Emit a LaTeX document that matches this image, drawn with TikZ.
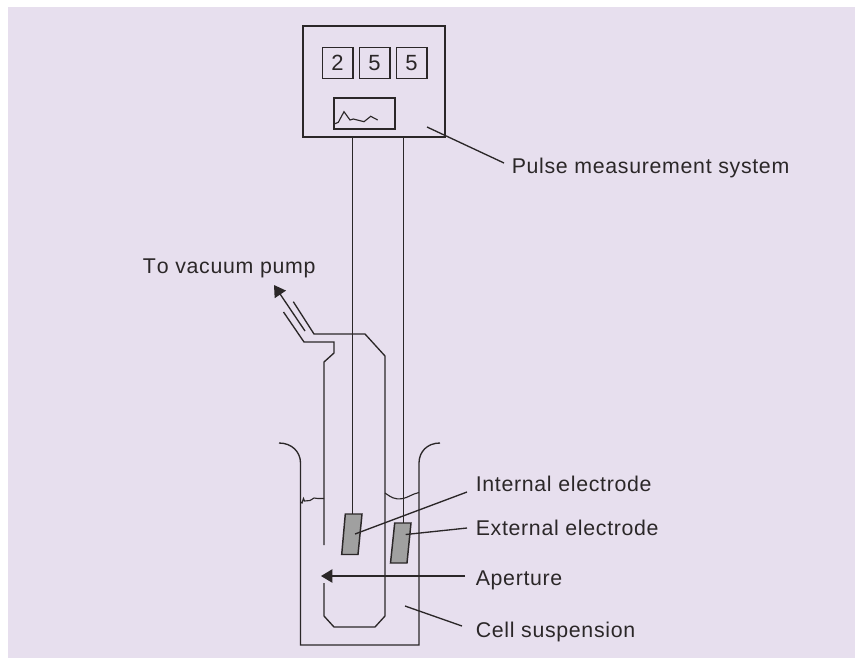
\documentclass[tikz,border=0pt]{standalone}
\usepackage{fontspec}
\setmainfont{Liberation Sans}
\newfontfamily\lblfont[LetterSpace=3.2]{Liberation Sans}
\definecolor{bgc}{HTML}{E7DFEE}
\definecolor{ink}{HTML}{2B2728}
\definecolor{elec}{HTML}{A0A0A0}
\usetikzlibrary{arrows.meta}
\tikzset{
  x=0.75pt,y=-0.75pt,
  ln/.style={draw=ink,line width=1pt,line join=miter},
  thin ln/.style={draw=ink,line width=0.85pt},
  lbl/.style={anchor=base west,inner sep=0pt,text=ink,font=\lblfont\fontsize{16pt}{20pt}\selectfont},
  digit/.style={draw=ink,line width=1pt,minimum width=23pt,minimum height=23pt,inner sep=0pt,text=ink,font=\fontsize{16.5pt}{18pt}\selectfont},
  electrode/.style={draw=ink,line width=1.1pt,fill=elec},
  tip/.style={-{Triangle[length=8.5pt,width=10pt]}}
}
\begin{document}
\begin{tikzpicture}
\useasboundingbox (0,0) rectangle (855,658);
\fill[bgc] (8,7) rectangle (855,658);
% measurement box
\node[draw=ink,line width=1.15pt,minimum width=106.5pt,minimum height=83.25pt,inner sep=0pt] (box) at (374,81.5) {};
\node[digit] (d1) at (337.5,63) {2};
\node[digit] (d2) at (374.5,63) {5};
\node[digit] (d3) at (411.5,63) {5};
\node[draw=ink,line width=1pt,minimum width=45.75pt,minimum height=23.25pt,inner sep=0pt] (screen) at (364.5,113.5) {};
\draw[thin ln] (335,123.7) -- (338.3,122.3) -- (344,111.7) -- (350,120) -- (353.3,119) -- (364,121.7) -- (370.7,116.3) -- (377.7,120);
% electrodes
\node[coordinate] (w1) at (352.4,137) {};
\node[coordinate] (w2) at (403.4,137) {};
\coordinate (e1) at (352.4,514);
\coordinate (e2) at (403.4,523);
\draw[ln] (w1) -- (e1);
\draw[ln] (w2) -- (e2);
\draw[electrode] (345.3,514) -- (362,514) -- (358,554.5) -- (341.7,554.5) -- cycle;
\draw[electrode] (394.7,523) -- (411,523) -- (407,563) -- (390.5,563) -- cycle;
% pipette
\draw[ln] (293.3,301.7) -- (314,334) -- (365,334) -- (385,356) -- (385,616) -- (375,627) -- (334,627) -- (324,616) -- (324,583);
\draw[ln] (324,545) -- (324,362) -- (334,353) -- (334,342) -- (304,342) -- (283.5,312);
\coordinate (pa) at (305,331);
\coordinate (pb) at (274,285);
\draw[ln,tip] (pa) -- (pb);
% beaker
\draw[ln] (279,443) .. controls (292,443) and (300.5,452) .. (300.5,463) -- (300.5,645) -- (419,645) -- (419,463) .. controls (419,452) and (427,443) .. (440,443);
% liquid
\draw[thin ln] (300.5,502) -- (302,503) -- (303.5,498.5) -- (304.5,501) -- (310,500.5) -- (314,498) -- (318,498.5) -- (324,498.5);
\draw[thin ln] (385,493) .. controls (391,497) and (394,500) .. (403,498.5) .. controls (408,497.5) and (412,494) .. (419,492.5);
% leaders and labels
\node[lbl] (lp) at (511.5,173.3) {Pulse measurement system};
\node[lbl] (lv) at (142.5,273) {T\kern0.8pt o vacuum pump};
\node[lbl] (li) at (475.5,491) {Internal electrode};
\node[lbl] (le) at (475.5,535.7) {External electrode};
\node[lbl] (la) at (475.5,585) {Aperture};
\node[lbl] (lc) at (475.5,637.7) {Cell suspension};
\coordinate (tp) at (427,127);
\coordinate (ti) at (355,534);
\coordinate (te) at (405.7,534.5);
\coordinate (tc) at (405,606);
\coordinate (ta) at (321,576);
\coordinate (sp) at (504,163);
\coordinate (si) at (467,492);
\coordinate (se) at (467,528);
\coordinate (sa) at (465,576);
\coordinate (sc) at (462,626);
\draw[ln] (sp) -- (tp);
\draw[ln] (si) -- (ti);
\draw[ln] (se) -- (te);
\draw[ln] (sc) -- (tc);
\draw[ln,tip] (sa) -- (ta);
\end{tikzpicture}
\end{document}
